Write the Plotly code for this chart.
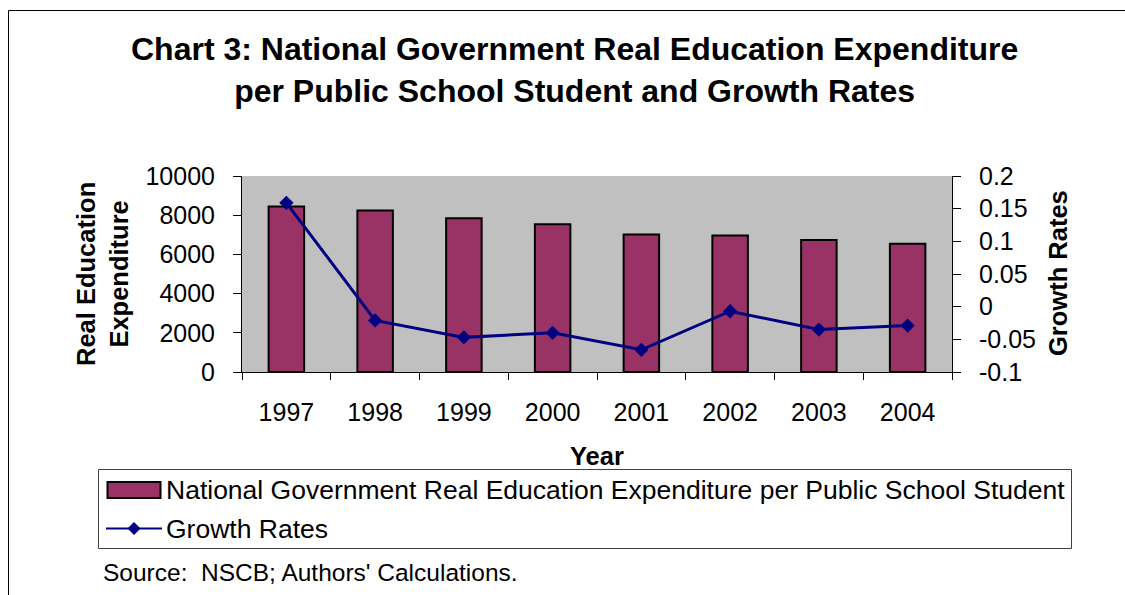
import plotly.graph_objects as go

years = ["1997", "1998", "1999", "2000", "2001", "2002", "2003", "2004"]
expenditure = [8440, 8240, 7850, 7540, 7020, 6970, 6730, 6540]
growth = [0.159, -0.021, -0.047, -0.040, -0.066, -0.007, -0.035, -0.029]

y1_ticks = [0, 2000, 4000, 6000, 8000, 10000]
y1_text = ["0", "2000", "4000", "6000", "8000", "10000"]
y2_ticks = [-0.1, -0.05, 0, 0.05, 0.1, 0.15, 0.2]
y2_text = ["-0.1", "-0.05", "0", "0.05", "0.1", "0.15", "0.2"]

bar_name = "National Government Real Education Expenditure per Public School Student"
line_name = "Growth Rates"
BAR_COLOR = "#993366"
LINE_COLOR = "#000080"

FONT = "Liberation Sans, Arial, sans-serif"
W, H = 1125, 595
L, R, T, B = 242, 952, 176, 372  # plot area in pixels
PW, PH = R - L, B - T

def px(x):
    return (x - L) / PW

def py(y):
    return (B - y) / PH

fig = go.Figure()
fig.add_trace(go.Bar(
    x=years, y=expenditure, name=bar_name,
    marker=dict(color=BAR_COLOR, line=dict(color="black", width=2)),
    yaxis="y", xaxis="x", showlegend=False,
))
fig.add_trace(go.Scatter(
    x=years, y=growth, name=line_name, mode="lines+markers",
    line=dict(color=LINE_COLOR, width=3),
    marker=dict(symbol="diamond", size=11, color=LINE_COLOR),
    yaxis="y2", xaxis="x", showlegend=False,
))

axis_font = dict(family=FONT, size=25, color="black")
fig.update_layout(
    width=W, height=H,
    margin=dict(l=L, r=W - R, t=T, b=H - B, pad=0),
    paper_bgcolor="white", plot_bgcolor="#C0C0C0",
    bargap=0.6,
    showlegend=False,
    font=dict(family=FONT, color="black"),
    xaxis=dict(type="category", categoryarray=years, range=[-0.5, 7.5],
               tickson="boundaries", ticks="outside", ticklen=7, tickcolor="black",
               showline=True, linecolor="black", linewidth=1, showgrid=False,
               tickfont=axis_font, ticklabelstandoff=18),
    xaxis2=dict(overlaying="x", range=[-0.5, 7.5], tickvals=[-0.5 + i for i in range(9)],
                ticks="inside", ticklen=8, tickcolor="black", showticklabels=False,
                showgrid=False, zeroline=False, showline=False, side="bottom"),
    yaxis=dict(range=[0, 10000], tickvals=y1_ticks, ticktext=y1_text,
               ticks="outside", ticklen=8, tickcolor="black",
               showline=True, linecolor="black", linewidth=1, showgrid=False,
               zeroline=False, tickfont=axis_font, ticklabelstandoff=13),
    yaxis2=dict(overlaying="y", side="right", range=[-0.1, 0.2],
                tickvals=y2_ticks, ticktext=y2_text,
                ticks="outside", ticklen=8, tickcolor="black",
                showline=True, linecolor="black", linewidth=1, showgrid=False,
                zeroline=False, tickfont=axis_font, ticklabelstandoff=13),
    yaxis3=dict(overlaying="y", side="left", range=[0, 10000], tickvals=y1_ticks,
                ticks="inside", ticklen=8, tickcolor="black", showticklabels=False,
                showgrid=False, zeroline=False, showline=False),
    yaxis4=dict(overlaying="y", side="right", range=[-0.1, 0.2], tickvals=y2_ticks,
                ticks="inside", ticklen=8, tickcolor="black", showticklabels=False,
                showgrid=False, zeroline=False, showline=False),
)

annotations = [
    dict(text="<b>Chart 3: National Government Real Education Expenditure<br>per Public School Student and Growth Rates</b>",
         x=px(574), y=py(70), xanchor="center", yanchor="middle",
         font=dict(family=FONT, size=32, color="black")),
    dict(text="<b>Real Education<br>Expenditure</b>", x=px(102), y=py(274),
         xanchor="center", yanchor="middle", textangle=-90,
         font=dict(family=FONT, size=25.5, color="black")),
    dict(text="<b>Growth Rates</b>", x=px(1058), y=py(273),
         xanchor="center", yanchor="middle", textangle=-90,
         font=dict(family=FONT, size=25.5, color="black")),
    dict(text="<b>Year</b>", x=px(597), y=py(456),
         xanchor="center", yanchor="middle",
         font=dict(family=FONT, size=25.5, color="black")),
    dict(text="Source:\u00a0 NSCB; Authors' Calculations.", x=px(101), y=py(572),
         xanchor="left", yanchor="middle",
         font=dict(family=FONT, size=24.5, color="black")),
    # legend labels
    dict(text=bar_name, x=px(164), y=py(490), xanchor="left", yanchor="middle",
         font=dict(family=FONT, size=26.5, color="black")),
    dict(text=line_name, x=px(164), y=py(529), xanchor="left", yanchor="middle",
         font=dict(family=FONT, size=26.5, color="black")),
]
for a in annotations:
    a["xref"] = "paper"
    a["yref"] = "paper"
    a["showarrow"] = False
fig.update_layout(annotations=annotations)

# outer chart frame (left and top edges visible)
fig.add_shape(type="path", xref="paper", yref="paper",
              path=f"M {px(8.5)},{py(600)} L {px(8.5)},{py(10.5)} L {px(1130)},{py(10.5)}",
              line=dict(color="black", width=1))

# legend box and keys
fig.add_shape(type="rect", xref="paper", yref="paper",
              x0=px(98.5), x1=px(1071.5), y0=py(469.5), y1=py(548.5),
              line=dict(color="#404040", width=1), fillcolor="rgba(0,0,0,0)")
fig.add_shape(type="rect", xref="paper", yref="paper",
              x0=px(107.5), x1=px(160.5), y0=py(482), y1=py(498),
              line=dict(color="black", width=2), fillcolor=BAR_COLOR)
fig.add_shape(type="line", xref="paper", yref="paper",
              x0=px(106), x1=px(162), y0=py(528.5), y1=py(528.5),
              line=dict(color=LINE_COLOR, width=2))
cx, cy, d = 134, 528.5, 6.5
fig.add_shape(type="path", xref="paper", yref="paper",
              path=(f"M {px(cx - d)},{py(cy)} L {px(cx)},{py(cy - d)} "
                    f"L {px(cx + d)},{py(cy)} L {px(cx)},{py(cy + d)} Z"),
              line=dict(color=LINE_COLOR, width=0), fillcolor=LINE_COLOR)

fig.write_html("out.html")
